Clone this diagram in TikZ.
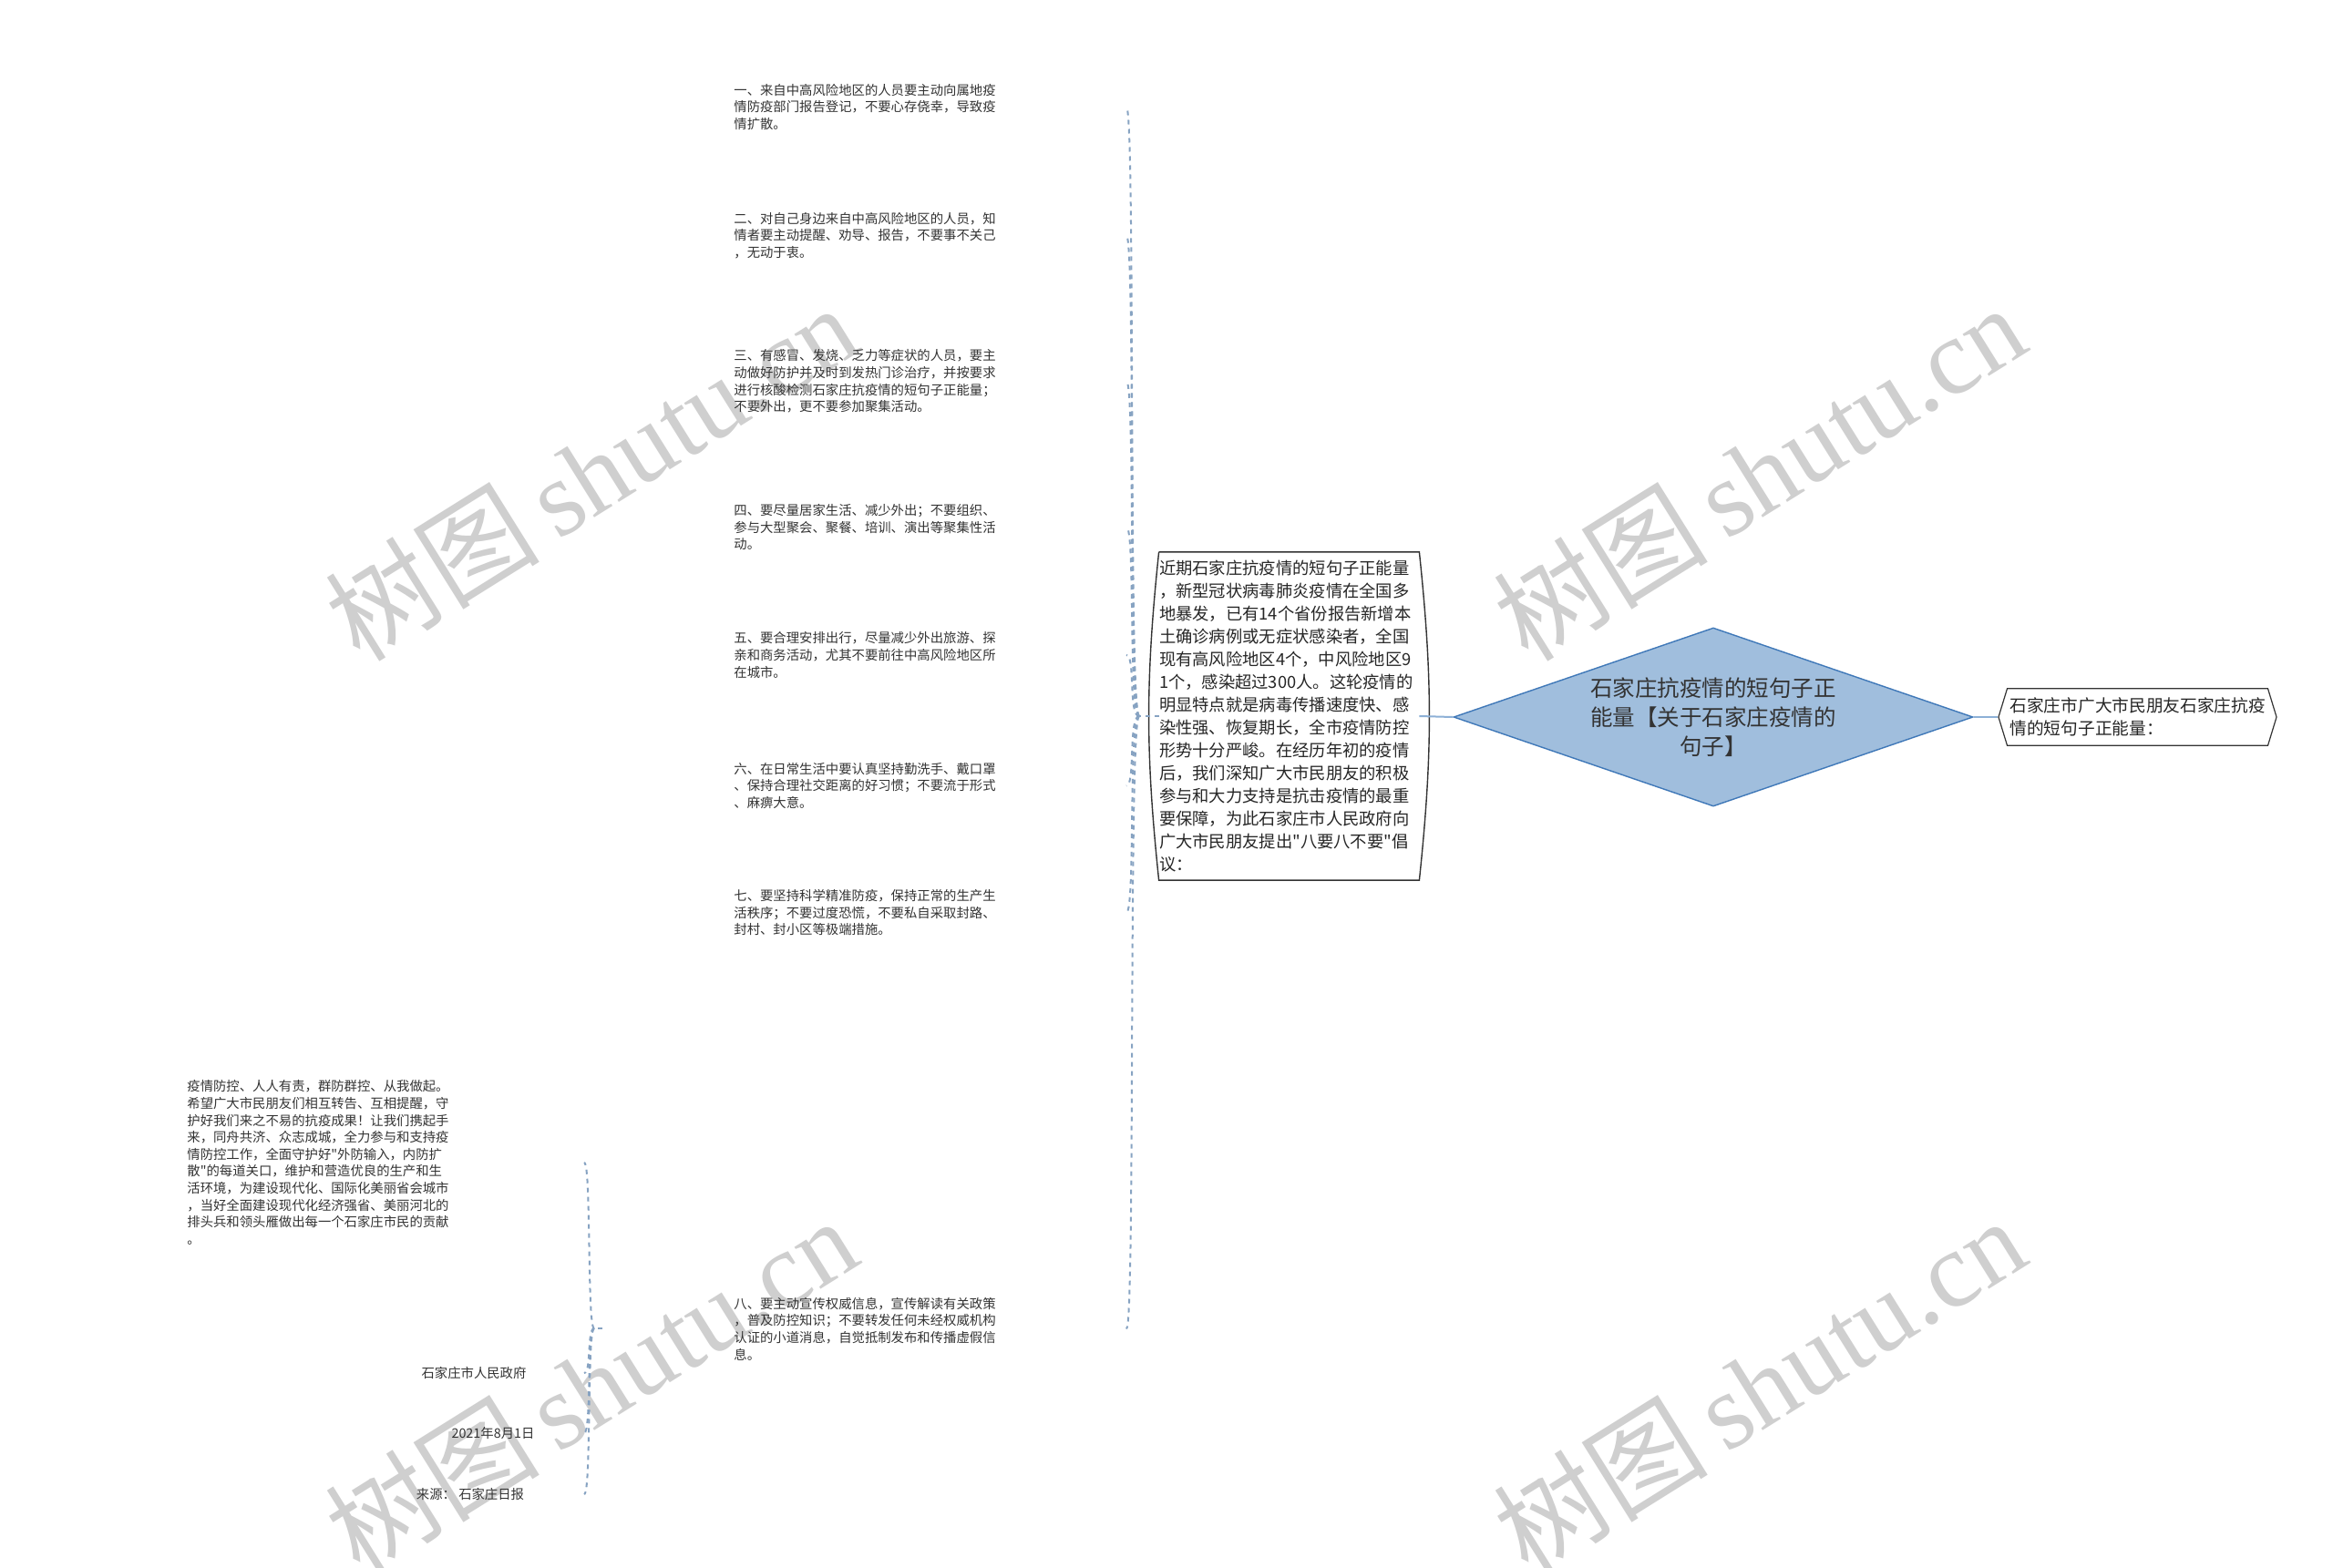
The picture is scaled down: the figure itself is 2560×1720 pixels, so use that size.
\documentclass[tikz,border=0pt]{standalone}
\usepackage{fontspec}
\setmainfont{Noto Sans CJK SC}[Ligatures=TeXOff]
\newfontfamily\wmlatin{Liberation Serif}
\usetikzlibrary{shapes.geometric,shapes.symbols}
\definecolor{dconncol}{HTML}{87A3C2}
\definecolor{sconncol}{HTML}{8DB0D6}
\definecolor{diafill}{HTML}{A0BEDD}
\definecolor{diaedge}{HTML}{3F78B8}
\definecolor{txt}{HTML}{333333}
\definecolor{wmcol}{HTML}{CFCFCF}
\tikzset{
  wm/.style={inner sep=0pt, text=wmcol, rotate=32, font=\fontsize{59pt}{59pt}\selectfont},
  item/.style={anchor=west, inner sep=0pt, text width=215pt, align=left, text=txt,
    font=\fontsize{7.18pt}{9.3pt}\selectfont},
  small/.style={inner sep=0pt, text=txt, font=\fontsize{7.18pt}{9.3pt}\selectfont},
  rootbox/.style={inner xsep=0pt, inner ysep=4.3pt, text width=142.5pt, align=left, text=black!85,
    font=\fontsize{9.15pt}{12.5pt}\selectfont},
  boxline/.style={draw=black!80, line width=0.7pt},
  dconn/.style={draw=dconncol, line width=1pt, dash pattern=on 2.5pt off 2.5pt},
  sconn/.style={draw=sconncol, line width=1pt},
}
\begin{document}
\begin{tikzpicture}[x=0.5pt,y=-0.5pt]
\fill[white] (0,0) rectangle (2560,1720);
\useasboundingbox (0,0) rectangle (2560,1720);

% watermarks
\node[wm] (wm1) at (648,518) {树图\,{\wmlatin shutu.cn}};
\node[wm] (wm2) at (1930,518) {树图\,{\wmlatin shutu.cn}};
\node[wm] (wm3) at (648,1520) {树图\,{\wmlatin shutu.cn}};
\node[wm] (wm4) at (1930,1520) {树图\,{\wmlatin shutu.cn}};

% root text box
\node[rootbox] (root) at (1414.5,786) {近期石家庄抗疫情的短句子正能量\\，新型冠状病毒肺炎疫情在全国多\\地暴发，已有14个省份报告新增本\\土确诊病例或无症状感染者，全国\\现有高风险地区4个，中风险地区9\\1个，感染超过300人。这轮疫情的\\明显特点就是病毒传播速度快、感\\染性强、恢复期长，全市疫情防控\\形势十分严峻。在经历年初的疫情\\后，我们深知广大市民朋友的积极\\参与和大力支持是抗击疫情的最重\\要保障，为此石家庄市人民政府向\\广大市民朋友提出"八要八不要"倡\\议：};
\draw[boxline] (root.north west) -- (root.north east) to[bend left=6] (root.south east) -- (root.south west) to[bend left=6] (root.north west);

% central diamond
\node[shape=diamond, aspect=2.9, minimum width=285pt, minimum height=98pt, inner sep=0pt,
  fill=diafill, draw=diaedge, line width=0.7pt, align=center, text=txt,
  font=\fontsize{12.25pt}{16pt}\selectfont] (diam) at (1880,787)
  {石家庄抗疫情的短句子正\\能量【关于石家庄疫情的\\句子】};

% right node
\node[shape=signal, signal to=east and west, signal pointer angle=146, draw=black!80, line width=0.6pt,
  inner xsep=1.5pt, inner ysep=5pt, text width=140pt, align=left, text=black!85,
  font=\fontsize{9.35pt}{12.5pt}\selectfont] (rt) at (2345.5,787)
  {石家庄市广大市民朋友石家庄抗疫\\情的短句子正能量：};

\draw[sconn] (root.east) -- (diam.west);
\draw[sconn] (diam.east) -- (rt.west);

% items
\node[item] (i1) at (805,117.5) {一、来自中高风险地区的人员要主动向属地疫\\情防疫部门报告登记，不要心存侥幸，导致疫\\情扩散。};
\node[item] (i2) at (805,258.5) {二、对自己身边来自中高风险地区的人员，知\\情者要主动提醒、劝导、报告，不要事不关己\\，无动于衷。};
\node[item] (i3) at (805,418.5) {三、有感冒、发烧、乏力等症状的人员，要主\\动做好防护并及时到发热门诊治疗，并按要求\\进行核酸检测石家庄抗疫情的短句子正能量；\\不要外出，更不要参加聚集活动。};
\node[item] (i4) at (805,578.5) {四、要尽量居家生活、减少外出；不要组织、\\参与大型聚会、聚餐、培训、演出等聚集性活\\动。};
\node[item] (i5) at (805,719) {五、要合理安排出行，尽量减少外出旅游、探\\亲和商务活动，尤其不要前往中高风险地区所\\在城市。};
\node[item] (i6) at (805,862.5) {六、在日常生活中要认真坚持勤洗手、戴口罩\\、保持合理社交距离的好习惯；不要流于形式\\、麻痹大意。};
\node[item] (i7) at (805,1001.5) {七、要坚持科学精准防疫，保持正常的生产生\\活秩序；不要过度恐慌，不要私自采取封路、\\封村、封小区等极端措施。};
\node[item] (i8) at (805,1458.5) {八、要主动宣传权威信息，宣传解读有关政策\\，普及防控知识；不要转发任何未经权威机构\\认证的小道消息，自觉抵制发布和传播虚假信\\息。};

\coordinate (jr) at (1250,786);
\coordinate (cx) at (1236,0);
\draw[dconn] (root.west) -- (jr);
\foreach \n in {i1,i2,i3,i4,i5,i6,i7,i8}
  \draw[dconn] (jr) .. controls +(-12,0) and +(10,0) .. (\n.east -| cx);

% grandchildren of item 8
\node[item, text width=218.5pt] (para) at (205,1276) {疫情防控、人人有责，群防群控、从我做起。\\希望广大市民朋友们相互转告、互相提醒，守\\护好我们来之不易的抗疫成果！让我们携起手\\来，同舟共济、众志成城，全力参与和支持疫\\情防控工作，全面守护好"外防输入，内防扩\\散"的每道关口，维护和营造优良的生产和生\\活环境，为建设现代化、国际化美丽省会城市\\，当好全面建设现代化经济强省、美丽河北的\\排头兵和领头雁做出每一个石家庄市民的贡献\\。};
\node[small] (gov) at (520,1507) {石家庄市人民政府};
\node[small] (date) at (541,1573) {2021年8月1日};
\node[small] (src) at (516,1640) {来源：\ 石家庄日报};

\coordinate (j8) at (661,1458);
\coordinate (jg) at (652,1458);
\coordinate (gx) at (641,0);
\draw[dconn] (j8) -- (jg);
\draw[dconn] (jg) .. controls +(-8,0) and +(8,0) .. (para.east -| gx);
\foreach \n in {gov,date,src}
  \draw[dconn] (jg) .. controls +(-8,0) and +(8,0) .. (\n.east -| gx);
\end{tikzpicture}
\end{document}
